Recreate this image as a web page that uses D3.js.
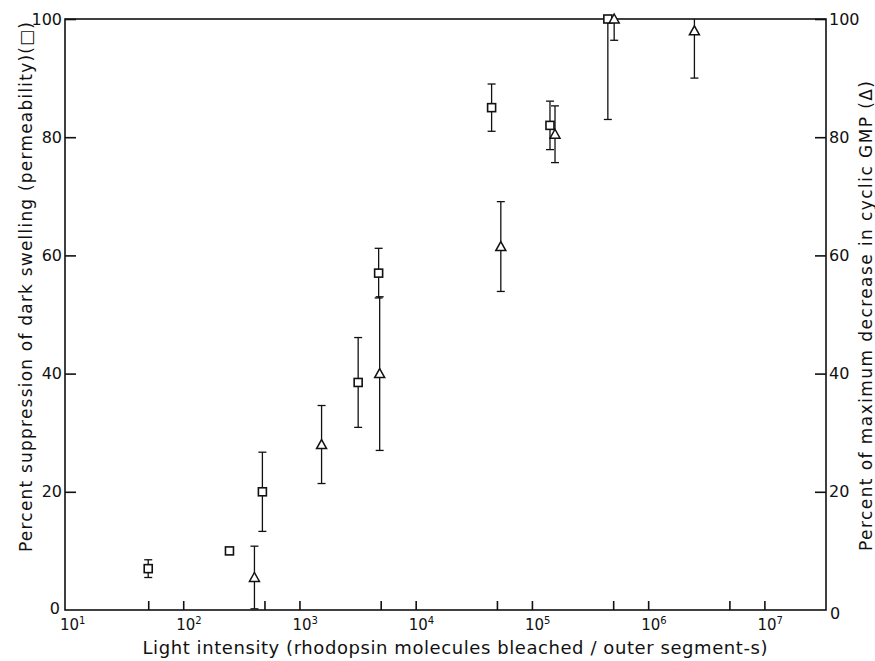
<!DOCTYPE html>
<html>
<head>
<meta charset="utf-8">
<script src="https://cdn.jsdelivr.net/npm/d3@7"></script>
<style>
  body { margin: 0; background: #fff; }
  text { font-family: "DejaVu Sans", "Liberation Sans", sans-serif; fill: #111; }
  .axis path, .axis line { stroke: #111; stroke-width: 1.6; }
  .axis .domain { display: none; }
</style>
</head>
<body>
<script>
// squares: dark swelling suppression (left axis)
var sqIntensity = [50, 250, 480, 3200, 4800, 45000, 143000, 450000];
var sqPercent   = [7, 10, 20, 38.5, 57, 85, 82, 100];
var sqError     = [1.5, 0, 6.7, 7.6, 4.2, 4, 4.1, 17];

// triangles: decrease in cyclic GMP (right axis)
var triIntensity = [410, 1550, 4900, 54000, 158000, 510000, 2500000];
var triPercent   = [5.5, 28, 40, 61.5, 80.5, 100, 98];
var triError     = [5.3, 6.6, 13, 7.6, 4.8, 3.6, 8];

var xTicks = [50, 100, 500, 1000, 5000, 1e4, 5e4, 1e5, 5e5, 1e6, 5e6, 1e7];
var yTicks = [20, 40, 60, 80, 100];

var W = 875, H = 661;
var pLeft = 65, pRight = 826, pTop = 19, pBottom = 610;

var x = d3.scaleLog()
    .domain([Math.pow(10, 0.983), Math.pow(10, 7.53)])
    .range([pLeft, pRight]);

var y = d3.scaleLinear()
    .domain([0, 100])
    .range([pBottom, pTop]);

var svg = d3.select('body').append('svg')
    .attr('width', W)
    .attr('height', H);

// frame
svg.append('rect')
    .attr('x', pLeft).attr('y', pTop)
    .attr('width', pRight - pLeft).attr('height', pBottom - pTop)
    .attr('fill', 'none').attr('stroke', '#111').attr('stroke-width', 1.6);

// x axis
svg.append('g')
    .attr('class', 'axis')
    .attr('transform', 'translate(0,' + pBottom + ')')
    .call(d3.axisBottom(x).tickValues(xTicks).tickSize(-9).tickFormat(function() { return ''; }));

var decades = [10, 100, 1000, 1e4, 1e5, 1e6, 1e7];
var xl = svg.append('g').selectAll('text')
    .data(decades)
    .enter().append('text')
    .attr('x', function(d) { return x(d) - 7; })
    .attr('y', pBottom + 20)
    .style('font-size', '15px');
xl.append('tspan').text('10');
xl.append('tspan')
    .attr('dy', -6)
    .style('font-size', '10px')
    .text(function(d) { return Math.round(Math.log10(d)); });

// left axis
svg.append('g')
    .attr('class', 'axis')
    .attr('transform', 'translate(' + pLeft + ',0)')
    .call(d3.axisLeft(y).tickValues(yTicks).tickSize(-11).tickPadding(3))
    .selectAll('text').style('font-size', '16px');

// right axis
svg.append('g')
    .attr('class', 'axis')
    .attr('transform', 'translate(' + pRight + ',0)')
    .call(d3.axisRight(y).tickValues(yTicks).tickSize(-11).tickPadding(3))
    .selectAll('text').style('font-size', '16px');

// zero labels
svg.append('text').attr('x', pLeft - 5).attr('y', pBottom + 4)
    .attr('text-anchor', 'end').style('font-size', '16px').text('0');
svg.append('text').attr('x', pRight + 4).attr('y', pBottom + 9)
    .style('font-size', '16px').text('0');

// axis titles
svg.append('text')
    .attr('transform', 'translate(32,287) rotate(-90)')
    .attr('text-anchor', 'middle')
    .attr('textLength', 530)
    .attr('lengthAdjust', 'spacing')
    .style('font-size', '17px')
    .text('Percent suppression of dark swelling (permeability)(\u25A1)');

svg.append('text')
    .attr('transform', 'translate(872,316) rotate(-90)')
    .attr('text-anchor', 'middle')
    .attr('textLength', 470)
    .attr('lengthAdjust', 'spacing')
    .style('font-size', '17px')
    .text('Percent of maximum decrease in cyclic GMP (\u0394)');

svg.append('text')
    .attr('x', 455).attr('y', 654)
    .attr('text-anchor', 'middle')
    .attr('textLength', 625)
    .attr('lengthAdjust', 'spacing')
    .style('font-size', '18px')
    .text('Light intensity (rhodopsin molecules bleached / outer segment-s)');

// data
var squares = sqIntensity.map(function(d, i) { return {x: d, y: sqPercent[i], e: sqError[i]}; });
var tris = triIntensity.map(function(d, i) { return {x: d, y: triPercent[i], e: triError[i]}; });

function errorBars(data) {
  var g = svg.append('g').attr('stroke', '#111').attr('stroke-width', 1.3);
  data.filter(function(d) { return d.e > 0; }).forEach(function(d) {
    var lo = Math.max(0, d.y - d.e), hi = Math.min(100, d.y + d.e);
    g.append('line')
        .attr('x1', x(d.x)).attr('x2', x(d.x))
        .attr('y1', y(lo)).attr('y2', y(hi));
    [lo, hi].forEach(function(v) {
      if (v <= 0 || v >= 100) return;
      g.append('line')
          .attr('x1', x(d.x) - 4).attr('x2', x(d.x) + 4)
          .attr('y1', y(v)).attr('y2', y(v));
    });
  });
}
errorBars(squares);
errorBars(tris);

svg.append('g').selectAll('rect')
    .data(squares)
    .enter().append('rect')
    .attr('x', function(d) { return x(d.x) - 4; })
    .attr('y', function(d) { return y(d.y) - 4; })
    .attr('width', 8).attr('height', 8)
    .attr('fill', '#fff').attr('stroke', '#111').attr('stroke-width', 1.6);

svg.append('g').selectAll('path')
    .data(tris)
    .enter().append('path')
    .attr('d', function(d) {
      var cx = x(d.x), cy = y(d.y);
      return 'M' + cx + ',' + (cy - 5) + 'L' + (cx + 5) + ',' + (cy + 4) + 'L' + (cx - 5) + ',' + (cy + 4) + 'Z';
    })
    .attr('fill', '#fff').attr('stroke', '#111').attr('stroke-width', 1.5);
</script>
</body>
</html>
